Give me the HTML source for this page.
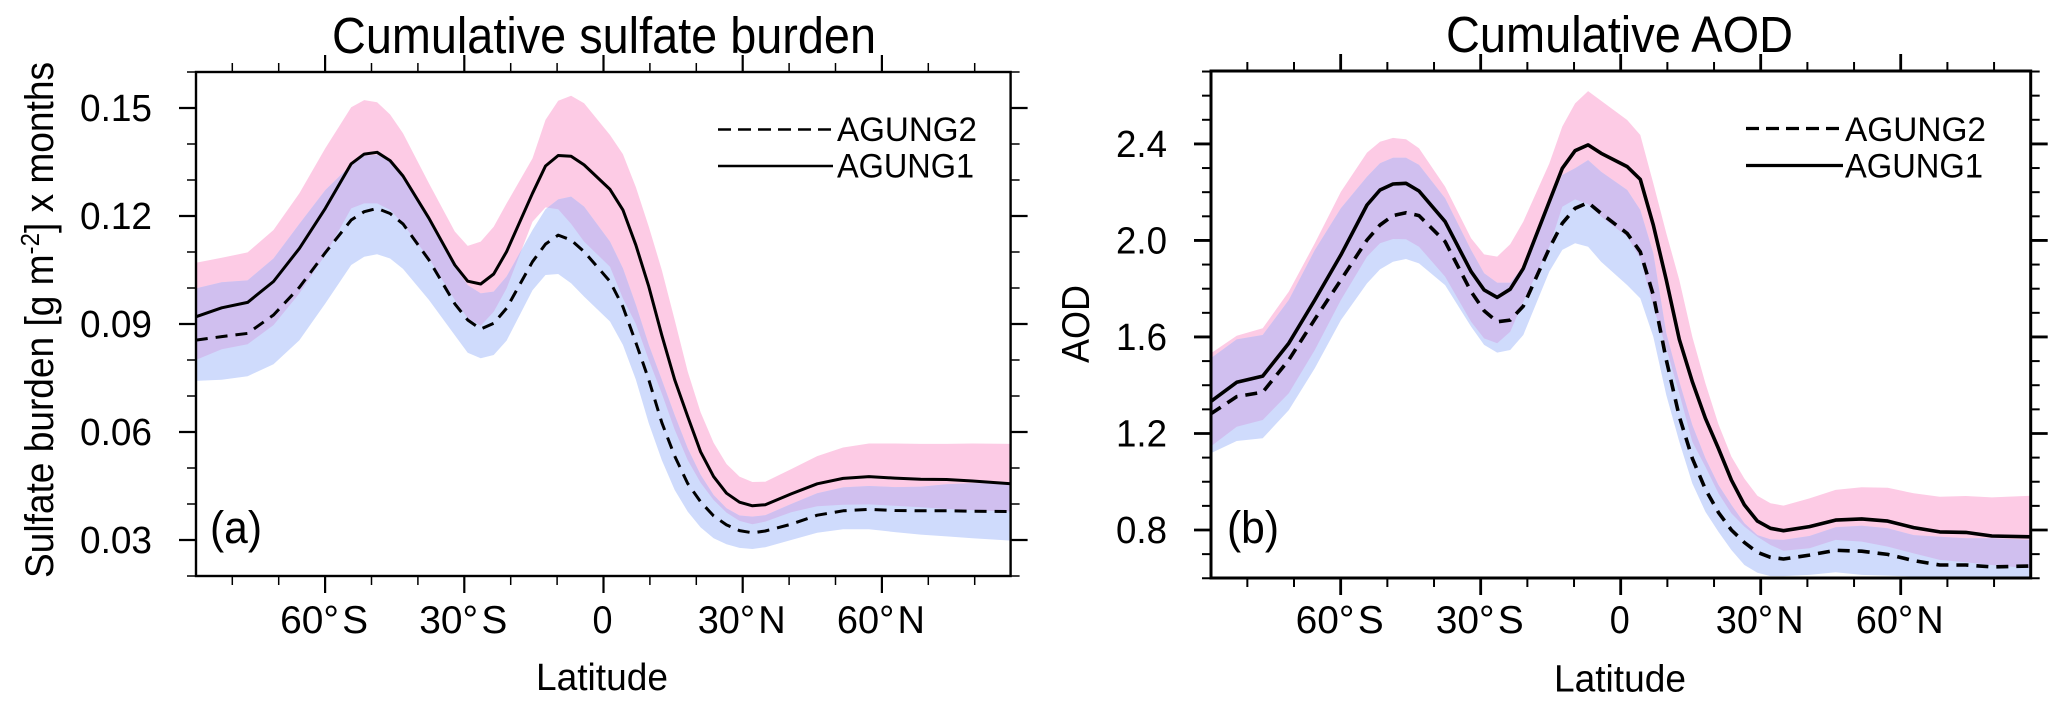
<!DOCTYPE html>
<html lang="en">
<head>
<meta charset="utf-8">
<title>Cumulative sulfate burden and AOD</title>
<style>
html,body{margin:0;padding:0;background:#fff;}
svg{display:block;}
text{font-family:"Liberation Sans",sans-serif;fill:#000;}
</style>
</head>
<body>
<svg id="chart" xmlns="http://www.w3.org/2000/svg" width="2067" height="712" viewBox="0 0 2067 712">
  <rect width="2067" height="712" fill="#fff"/>
  <defs>
    <clipPath id="plot-clip-a"><rect x="196" y="72" width="815" height="504"/></clipPath>
    <clipPath id="plot-clip-b"><rect x="1211" y="71" width="820" height="507"/></clipPath>
    <clipPath id="pink-clip-a"><path id="pink-clip-a-path" d=""/></clipPath>
    <clipPath id="pink-clip-b"><path id="pink-clip-b-path" d=""/></clipPath>
  </defs>
  <g id="panel-a">
    <g id="marks-a" clip-path="url(#plot-clip-a)"></g>
    <g id="axes-a"></g>
    <text x="332" y="53" font-size="51" textLength="544" lengthAdjust="spacingAndGlyphs">Cumulative sulfate burden</text>
    <text x="536" y="690" font-size="38" textLength="132" lengthAdjust="spacingAndGlyphs">Latitude</text>
    <text transform="translate(53,578) rotate(-90)" font-size="40" textLength="516" lengthAdjust="spacingAndGlyphs">Sulfate burden [g m<tspan font-size="26" dy="-14">-2</tspan><tspan dy="14">] x months</tspan></text>
    <text x="210" y="543" font-size="45" textLength="52" lengthAdjust="spacingAndGlyphs">(a)</text>
    <line x1="718" y1="129.5" x2="833" y2="129.5" stroke="#000" stroke-width="2.6" stroke-dasharray="13 7"/>
    <line x1="718" y1="166" x2="833" y2="166" stroke="#000" stroke-width="2.6"/>
    <text x="837" y="141" font-size="34.5" textLength="140" lengthAdjust="spacingAndGlyphs">AGUNG2</text>
    <text x="837" y="177.5" font-size="34.5" textLength="137" lengthAdjust="spacingAndGlyphs">AGUNG1</text>
  </g>
  <g id="panel-b">
    <g id="marks-b" clip-path="url(#plot-clip-b)"></g>
    <g id="axes-b"></g>
    <text x="1446" y="52" font-size="51" textLength="347" lengthAdjust="spacingAndGlyphs">Cumulative AOD</text>
    <text x="1554" y="691.5" font-size="38" textLength="132" lengthAdjust="spacingAndGlyphs">Latitude</text>
    <text transform="translate(1089,363) rotate(-90)" font-size="39" textLength="78" lengthAdjust="spacingAndGlyphs">AOD</text>
    <text x="1227" y="543" font-size="45" textLength="52" lengthAdjust="spacingAndGlyphs">(b)</text>
    <line x1="1746" y1="128.5" x2="1843" y2="128.5" stroke="#000" stroke-width="3.2" stroke-dasharray="13 7"/>
    <line x1="1746" y1="165.5" x2="1843" y2="165.5" stroke="#000" stroke-width="3.2"/>
    <text x="1845" y="141" font-size="34.5" textLength="141" lengthAdjust="spacingAndGlyphs">AGUNG2</text>
    <text x="1845" y="177.5" font-size="34.5" textLength="138" lengthAdjust="spacingAndGlyphs">AGUNG1</text>
  </g>
</svg>
<script>
const latitudes = [-87.86,-82.28,-76.70,-71.12,-65.54,-59.95,-54.37,-51.58,-48.79,-46.00,-43.21,-37.63,-32.05,-29.26,-26.47,-23.67,-20.88,-15.30,-12.51,-9.77,-6.98,-4.19,1.40,4.19,6.98,9.77,12.56,15.35,18.14,20.93,23.72,26.51,29.30,32.09,34.88,40.46,46.05,51.63,57.21,62.79,68.37,73.95,79.53,87.86];

const burdenAgung1 = [.0920,.0945,.0960,.1018,.1110,.1221,.1345,.1372,.1377,.1354,.1311,.1194,.1064,.1019,.1011,.1039,.1101,.1263,.1339,.1368,.1366,.1342,.1274,.1217,.1119,.1004,.0869,.0745,.0643,.0545,.0476,.0430,.0405,.0395,.0398,.0428,.0456,.0471,.0476,.0472,.0469,.0468,.0464,.0456];
const burdenAgung2 = [.0855,.0865,.0874,.0925,.1002,.1098,.1189,.1212,.1221,.1207,.1178,.1078,.0956,.0911,.0886,.0902,.0944,.1073,.1122,.1147,.1133,.1101,.1018,.0948,.0848,.0745,.0626,.0533,.0457,.0406,.0367,.0342,.0326,.0320,.0325,.0344,.0369,.0381,.0385,.0382,.0381,.0381,.0380,.0379];
const burdenAgung1Upper = [.1070,.1084,.1099,.1161,.1263,.1388,.1502,.1522,.1516,.1482,.1430,.1291,.1157,.1117,.1129,.1170,.1235,.1360,.1467,.1520,.1534,.1513,.1425,.1372,.1280,.1170,.1050,.0911,.0768,.0655,.0570,.0511,.0476,.0461,.0462,.0497,.0533,.0557,.0568,.0568,.0567,.0567,.0568,.0567];
const burdenAgung1Lower = [.0800,.0830,.0844,.0897,.0985,.1092,.1221,.1235,.1235,.1217,.1178,.1082,.0967,.0916,.0895,.0934,.0999,.1184,.1224,.1219,.1178,.1129,.1059,.0971,.0900,.0800,.0707,.0606,.0522,.0459,.0411,.0376,.0353,.0344,.0351,.0377,.0394,.0398,.0399,.0395,.0391,.0386,.0383,.0379];
const burdenAgung2Upper = [.0999,.1016,.1021,.1082,.1178,.1272,.1342,.1367,.1370,.1351,.1308,.1191,.1059,.1008,.0985,.0990,.1032,.1161,.1219,.1246,.1254,.1226,.1129,.1055,.0953,.0842,.0745,.0647,.0555,.0481,.0425,.0388,.0368,.0365,.0369,.0400,.0430,.0446,.0450,.0447,.0448,.0455,.0458,.0455];
const burdenAgung2Lower = [.0742,.0745,.0755,.0788,.0855,.0957,.1064,.1087,.1094,.1082,.1053,.0967,.0869,.0820,.0805,.0814,.0854,.0994,.1036,.1039,.1013,.0976,.0907,.0842,.0745,.0624,.0522,.0439,.0379,.0335,.0305,.0288,.0278,.0275,.0280,.0300,.0320,.0330,.0330,.0322,.0315,.0310,.0305,.0298];

const aodAgung1 = [1.332,1.412,1.438,1.574,1.753,1.940,2.147,2.209,2.234,2.237,2.205,2.078,1.871,1.795,1.764,1.798,1.884,2.161,2.299,2.372,2.396,2.361,2.306,2.253,2.064,1.836,1.590,1.415,1.263,1.138,1.007,.904,.837,.807,.797,.814,.841,.846,.837,.810,.792,.790,.775,.772];
const aodAgung2 = [1.281,1.353,1.371,1.505,1.673,1.836,2.002,2.064,2.103,2.115,2.103,1.995,1.788,1.709,1.663,1.670,1.728,1.967,2.071,2.133,2.157,2.112,2.029,1.953,1.774,1.505,1.270,1.097,.969,.873,.800,.748,.707,.687,.680,.696,.716,.712,.699,.673,.655,.655,.647,.651];
const aodAgung1Upper = [1.532,1.605,1.636,1.788,1.988,2.202,2.364,2.409,2.425,2.419,2.382,2.223,2.009,1.942,1.933,1.984,2.078,2.319,2.472,2.568,2.619,2.579,2.499,2.437,2.237,2.030,1.836,1.601,1.408,1.239,1.104,1.013,.942,.911,.901,.931,.966,.977,.975,.952,.938,.941,.935,.942];
const aodAgung1Lower = [1.146,1.228,1.256,1.367,1.546,1.753,1.933,1.988,2.006,2.005,1.974,1.850,1.663,1.594,1.574,1.622,1.746,1.974,2.140,2.170,2.150,2.099,2.016,1.926,1.726,1.553,1.366,1.166,1.062,.952,.869,.814,.772,.738,.714,.724,.759,.752,.731,.703,.676,.666,.655,.641];
const aodAgung2Upper = [1.511,1.590,1.608,1.753,1.960,2.133,2.264,2.320,2.343,2.343,2.313,2.175,1.960,1.864,1.825,1.825,1.891,2.147,2.271,2.299,2.333,2.285,2.209,2.126,1.947,1.615,1.415,1.235,1.097,.987,.904,.828,.779,.761,.759,.775,.811,.818,.807,.779,.772,.766,.766,.759];
const aodAgung2Lower = [1.118,1.169,1.180,1.297,1.470,1.670,1.822,1.880,1.912,1.923,1.905,1.815,1.643,1.567,1.535,1.546,1.608,1.871,1.961,1.988,1.974,1.912,1.815,1.760,1.601,1.359,1.166,.993,.876,.793,.717,.655,.623,.609,.609,.614,.625,.614,.611,.607,.604,.604,.604,.603];

const xTickValues = [-60,-30,0,30,60];
const xTickLabels = ["60°\u200AS","30°\u200AS","0","30°\u200AN","60°\u200AN"];
const xMinorValues = [-80,-70,-50,-40,-20,-10,10,20,40,50,70,80];
const burdenTickValues = [0.03,0.06,0.09,0.12,0.15];
const burdenTickLabels = ["0.03","0.06","0.09","0.12","0.15"];
const burdenMinorValues = [0.02,0.04,0.05,0.07,0.08,0.10,0.11,0.13,0.14,0.16];
const aodTickValues = [0.8,1.2,1.6,2.0,2.4];
const aodTickLabels = ["0.8","1.2","1.6","2.0","2.4"];
const aodMinorValues = [0.6,0.7,0.9,1.0,1.1,1.3,1.4,1.5,1.7,1.8,1.9,2.1,2.2,2.3,2.5,2.6,2.7];

const SVG_NS = "http://www.w3.org/2000/svg";
function make(tag, attrs, parent) {
  const el = document.createElementNS(SVG_NS, tag);
  for (const k in attrs) el.setAttribute(k, attrs[k]);
  parent.appendChild(el);
  return el;
}
function linePath(xs, ys, sx, sy) {
  return xs.map((x, i) => (i ? "L" : "M") + sx(x).toFixed(1) + " " + sy(ys[i]).toFixed(1)).join("");
}
function bandPath(xs, hi, lo, sx, sy) {
  const up = xs.map((x, i) => sx(x).toFixed(1) + " " + sy(hi[i]).toFixed(1));
  const dn = xs.map((x, i) => sx(x).toFixed(1) + " " + sy(lo[i]).toFixed(1)).reverse();
  return "M" + up.concat(dn).join("L") + "Z";
}

function drawPanel(p) {
  const sx = p.sx, sy = p.sy, marks = p.marks, axes = p.axes;
  const pinkD = bandPath(latitudes, p.hi1, p.lo1, sx, sy);
  const blueD = bandPath(latitudes, p.hi2, p.lo2, sx, sy);
  document.getElementById(p.clipPathId).setAttribute("d", pinkD);

  const pink = make("path", {d: pinkD, fill: "#FDCBE5"}, marks);
  
  

  const blue = make("path", {d: blueD, fill: "#CFDBFC"}, marks);
  
  

  const overlap = make("path", {d: blueD, fill: "#D0BFEF", "clip-path": "url(#" + p.clipId + ")"}, marks);
  
  

  const dashed = make("path", {d: linePath(latitudes, p.mean2, sx, sy), fill: "none", stroke: "#000", "stroke-width": p.lw, "stroke-dasharray": "12 8", "stroke-linejoin": "round"}, marks);
  
  

  const solid = make("path", {d: linePath(latitudes, p.mean1, sx, sy), fill: "none", stroke: "#000", "stroke-width": p.lw, "stroke-linejoin": "round"}, marks);
  
  

  const frame = make("rect", {x: p.left, y: p.top, width: p.right - p.left, height: p.bottom - p.top, fill: "none", stroke: "#000", "stroke-width": p.axisW}, axes);
  
  

  p.xMajor.forEach((v, i) => {
    const x = sx(v);
    const bottomTick = make("line", {x1: x, x2: x, y1: p.bottom, y2: p.bottom + 17, stroke: "#000", "stroke-width": p.majorW}, axes);
    
    
    const topTick = make("line", {x1: x, x2: x, y1: p.top, y2: p.top - 17, stroke: "#000", "stroke-width": p.majorW}, axes);
    
    
    const label = make("text", {x: x - 1, y: p.xLabelY, "font-size": 39, "text-anchor": "middle"}, axes);
    
    
    label.textContent = xTickLabels[i];
    if (xTickLabels[i].length > 1) {
      label.setAttribute("textLength", 88);
      label.setAttribute("lengthAdjust", "spacingAndGlyphs");
    } else {
      label.setAttribute("textLength", 20);
      label.setAttribute("lengthAdjust", "spacingAndGlyphs");
    }
  });
  xMinorValues.forEach(v => {
    const x = sx(v);
    const bottomMinor = make("line", {x1: x, x2: x, y1: p.bottom, y2: p.bottom + 9, stroke: "#000", "stroke-width": p.minorW}, axes);
    
    
    const topMinor = make("line", {x1: x, x2: x, y1: p.top, y2: p.top - 9, stroke: "#000", "stroke-width": p.minorW}, axes);
    
    
  });
  p.yMajor.forEach((v, i) => {
    const y = sy(v);
    const leftTick = make("line", {x1: p.left, x2: p.left - 17, y1: y, y2: y, stroke: "#000", "stroke-width": p.majorW}, axes);
    
    
    const rightTick = make("line", {x1: p.right, x2: p.right + 17, y1: y, y2: y, stroke: "#000", "stroke-width": p.majorW}, axes);
    
    
    const label = make("text", {x: p.yLabelX, y: y + 13, "font-size": 38, "text-anchor": "end"}, axes);
    
    
    label.textContent = p.yLabels[i];
    label.setAttribute("textLength", p.yLabelW);
    label.setAttribute("lengthAdjust", "spacingAndGlyphs");
  });
  p.yMinor.forEach(v => {
    const y = sy(v);
    const leftMinor = make("line", {x1: p.left, x2: p.left - 9, y1: y, y2: y, stroke: "#000", "stroke-width": p.minorW}, axes);
    
    
    const rightMinor = make("line", {x1: p.right, x2: p.right + 9, y1: y, y2: y, stroke: "#000", "stroke-width": p.minorW}, axes);
    
    
  });
}

function xAxisA(lat) { return 603.5 + lat * 4.64; }
function yAxisA(v) { return 540 - (v - 0.03) * 3600; }
function xAxisB(lat) { return 1620.7 + lat * 4.667; }
function yAxisB(v) { return 530 - (v - 0.8) * 241.3; }

drawPanel({
  sx: xAxisA, sy: yAxisA,
  marks: document.getElementById("marks-a"), axes: document.getElementById("axes-a"),
  clipPathId: "pink-clip-a-path", clipId: "pink-clip-a",
  mean1: burdenAgung1, mean2: burdenAgung2,
  hi1: burdenAgung1Upper, lo1: burdenAgung1Lower, hi2: burdenAgung2Upper, lo2: burdenAgung2Lower,
  left: 196, right: 1010.6, top: 72, bottom: 576,
  lw: 3, axisW: 2.4, majorW: 2.2, minorW: 1.5,
  xMajor: xTickValues, xLabelY: 633,
  yMajor: burdenTickValues, yLabels: burdenTickLabels, yMinor: burdenMinorValues, yLabelX: 152, yLabelW: 72
});
drawPanel({
  sx: xAxisB, sy: yAxisB,
  marks: document.getElementById("marks-b"), axes: document.getElementById("axes-b"),
  clipPathId: "pink-clip-b-path", clipId: "pink-clip-b",
  mean1: aodAgung1, mean2: aodAgung2,
  hi1: aodAgung1Upper, lo1: aodAgung1Lower, hi2: aodAgung2Upper, lo2: aodAgung2Lower,
  left: 1211, right: 2030.7, top: 71, bottom: 578,
  lw: 3.6, axisW: 3, majorW: 2.8, minorW: 2,
  xMajor: xTickValues, xLabelY: 633,
  yMajor: aodTickValues, yLabels: aodTickLabels, yMinor: aodMinorValues, yLabelX: 1167, yLabelW: 51
});
</script>
</body>
</html>
